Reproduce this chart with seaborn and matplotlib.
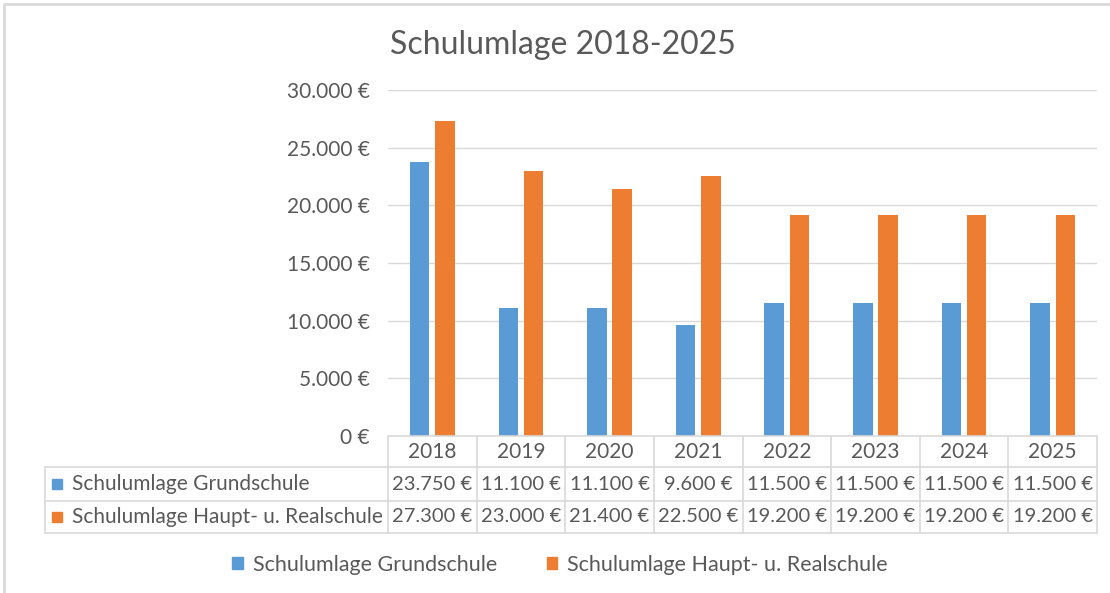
import matplotlib.pyplot as plt
import matplotlib.transforms as mtransforms
import pandas as pd
import seaborn as sns
from matplotlib.lines import Line2D
from matplotlib.patches import Rectangle

YEARS = ["2018", "2019", "2020", "2021", "2022", "2023", "2024", "2025"]
SERIES = ["Schulumlage Grundschule", "Schulumlage Haupt- u. Realschule"]
GRUNDSCHULE = [23750, 11100, 11100, 9600, 11500, 11500, 11500, 11500]
HAUPT_REAL = [27300, 23000, 21400, 22500, 19200, 19200, 19200, 19200]
YTICKS = [0, 5000, 10000, 15000, 20000, 25000, 30000]

COLORS = ["#5B9BD5", "#ED7D31"]
TEXT = "#595959"
GRID = "#D9D9D9"

W, H = 1110, 593

sns.set_theme(style="white")
plt.rcParams["font.family"] = ["Lato", "DejaVu Sans"]


def euro(v):
    return f"{v:,.0f}".replace(",", ".") + " €"


def fy(py):
    # pixel row -> figure fraction
    return 1 - py / H


def fx(px):
    return px / W


df = pd.DataFrame({
    "Jahr": YEARS * 2,
    "Reihe": [SERIES[0]] * len(YEARS) + [SERIES[1]] * len(YEARS),
    "Betrag": GRUNDSCHULE + HAUPT_REAL,
})

fig = plt.figure(figsize=(W / 100, H / 100), dpi=100)
ax = fig.add_axes([fx(388), fy(436), fx(1097) - fx(388), fy(90) - fy(436)])

sns.barplot(data=df, x="Jahr", y="Betrag", hue="Reihe", order=YEARS, hue_order=SERIES,
            palette=COLORS, saturation=1, width=0.57, gap=0.23, linewidth=0, ax=ax,
            legend=False)

ax.set_xlim(-0.5, len(YEARS) - 0.5)
ax.set_ylim(0, 30000)
ax.set_yticks(YTICKS)
ax.set_yticklabels([euro(v) for v in YTICKS], color=TEXT, fontsize=15)
ax.tick_params(axis="y", length=0, pad=13)
ax.set_xticks([])
ax.set_xlabel("")
ax.set_ylabel("")
ax.yaxis.grid(True, color=GRID, linewidth=1)
ax.set_axisbelow(True)
for s in ax.spines.values():
    s.set_visible(False)

fig.text(fx(563), fy(45), "Schulumlage 2018-2025", ha="center", va="center",
         fontsize=23, color=TEXT)

# data table under the plot
mix = mtransforms.blended_transform_factory(ax.transData, fig.transFigure)
row_top, row_head, row_1, row_2 = fy(436), fy(467), fy(501), fy(533)
left = fx(45)
right_data = len(YEARS) - 0.5

for yy in (row_head, row_1, row_2):
    fig.add_artist(Line2D([left, fx(1097)], [yy, yy], color=GRID, lw=1.2,
                          transform=fig.transFigure))
fig.add_artist(Line2D([-0.5, right_data], [row_top, row_top], color=GRID, lw=1.2,
                      transform=mix))
fig.add_artist(Line2D([left, left], [row_head, row_2], color=GRID, lw=1.2,
                      transform=fig.transFigure))
for i in range(len(YEARS) + 1):
    xx = i - 0.5
    fig.add_artist(Line2D([xx, xx], [row_top, row_2], color=GRID, lw=1.2, transform=mix))

for i, yr in enumerate(YEARS):
    fig.text(i, (row_top + row_head) / 2, yr, transform=mix, ha="center", va="center",
             fontsize=15, color=TEXT)
    fig.text(i, (row_head + row_1) / 2, euro(GRUNDSCHULE[i]), transform=mix,
             ha="center", va="center", fontsize=14.5, color=TEXT)
    fig.text(i, (row_1 + row_2) / 2, euro(HAUPT_REAL[i]), transform=mix,
             ha="center", va="center", fontsize=14.5, color=TEXT)

for name, color, (ya, yb) in zip(SERIES, COLORS, [(row_head, row_1), (row_1, row_2)]):
    yc = (ya + yb) / 2
    fig.add_artist(Rectangle((fx(52), yc - 5 / H), 10 / W, 10 / H, color=color,
                             transform=fig.transFigure))
    fig.text(fx(72), yc, name, ha="left", va="center", fontsize=15, color=TEXT)

# legend
handles = [Rectangle((0, 0), 1, 1, color=c) for c in COLORS]
fig.legend(handles, SERIES, loc="center", bbox_to_anchor=(fx(560), fy(565)), ncol=2,
           frameon=False, fontsize=15.5, labelcolor=TEXT, handlelength=0.5,
           handleheight=0.5, handletextpad=0.45, columnspacing=2.3)

# chart-area border (top and left edges visible)
fig.add_artist(Line2D([fx(4), 1], [fy(4), fy(4)], color=GRID, lw=2, transform=fig.transFigure))
fig.add_artist(Line2D([fx(4), fx(4)], [0, fy(4)], color=GRID, lw=2, transform=fig.transFigure))

fig.savefig("out.png", dpi=100)
